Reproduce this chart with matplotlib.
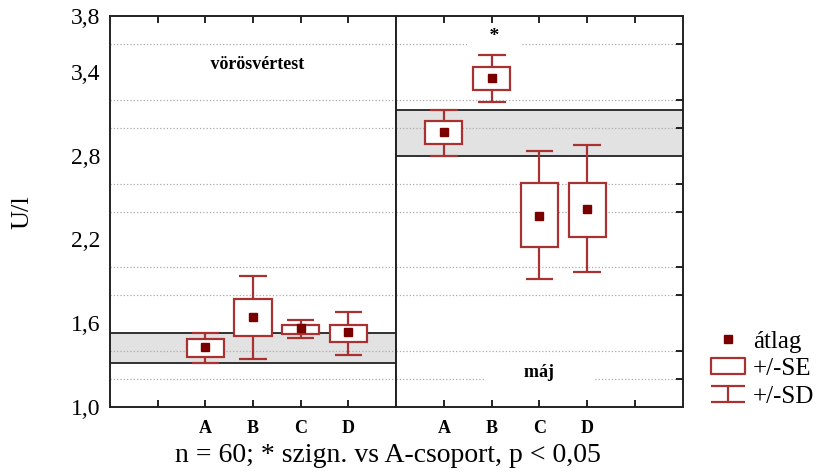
import matplotlib.pyplot as plt
from matplotlib.lines import Line2D
from matplotlib.path import Path

plt.rcParams['font.family'] = ['Liberation Serif', 'DejaVu Serif']

# Data (U/l)
groups = ['A', 'B', 'C', 'D']

# vörösvértest panel
rbc_mean = [1.43, 1.645, 1.567, 1.538]
rbc_se_lo = [1.36, 1.51, 1.524, 1.467]
rbc_se_hi = [1.488, 1.775, 1.589, 1.589]
rbc_sd_lo = [1.316, 1.345, 1.495, 1.373]
rbc_sd_hi = [1.531, 1.94, 1.625, 1.682]
rbc_band = [1.316, 1.531]

# máj panel
liv_mean = [2.967, 3.355, 2.371, 2.421]
liv_se_lo = [2.881, 3.268, 2.149, 2.22]
liv_se_hi = [3.046, 3.434, 2.601, 2.601]
liv_sd_lo = [2.795, 3.182, 1.919, 1.969]
liv_sd_hi = [3.125, 3.52, 2.831, 2.874]
liv_band = [2.795, 3.125]

yticks = [1.0, 1.6, 2.2, 2.8, 3.4, 3.8]
grid_levels = [1.2, 1.4, 1.6, 1.8, 2.0, 2.2, 2.4, 2.6, 2.8, 3.0, 3.2, 3.4, 3.6]

edge = '#A83232'
dot = '#7A0000'

fig = plt.figure(figsize=(8.16, 4.73), dpi=100)
ax1 = fig.add_axes([0.1348, 0.1395, 0.4853 - 0.1348, 0.8267])
ax2 = fig.add_axes([0.4853, 0.1395, 0.837 - 0.4853, 0.8267])


def draw_panel(ax, pos, mean, se_lo, se_hi, sd_lo, sd_hi, band):
    ax.set_xlim(0, 6)
    ax.set_ylim(1.0, 3.8)
    ax.axhspan(band[0], band[1], color='#E2E2E2', zorder=0.3, lw=0)
    for b in band:
        ax.axhline(b, color='#222222', lw=1.3, zorder=1)
    ax.set_yticks(grid_levels, minor=True)
    ax.grid(which='minor', axis='y', color='#AAAAAA', ls=':', lw=0.9)
    ax.set_axisbelow(True)
    heights = [h - l for h, l in zip(se_hi, se_lo)]
    ax.vlines(pos, sd_lo, se_lo, color=edge, lw=1.6, zorder=2)
    ax.vlines(pos, se_hi, sd_hi, color=edge, lw=1.6, zorder=2)
    ax.hlines(sd_lo, [p - 0.29 for p in pos], [p + 0.29 for p in pos], color=edge, lw=1.6, zorder=2)
    ax.hlines(sd_hi, [p - 0.29 for p in pos], [p + 0.29 for p in pos], color=edge, lw=1.6, zorder=2)
    ax.bar(pos, heights, bottom=se_lo, width=0.78, facecolor='white',
           edgecolor=edge, lw=1.6, zorder=3)
    ax.plot(pos, mean, 's', color=dot, ms=6, zorder=4, ls='none')
    ax.set_xticks([1, 2, 3, 4, 5])
    for s in ax.spines.values():
        s.set_linewidth(1.4)
        s.set_color('#222222')


draw_panel(ax1, [2, 3, 4, 5], rbc_mean, rbc_se_lo, rbc_se_hi, rbc_sd_lo, rbc_sd_hi, rbc_band)
draw_panel(ax2, [1, 2, 3, 4], liv_mean, liv_se_lo, liv_se_hi, liv_sd_lo, liv_sd_hi, liv_band)

ax1.set_xticklabels([''] + groups, fontweight='bold', fontsize=13)
ax2.set_xticklabels(groups + [''], fontweight='bold', fontsize=13)
for ax in (ax1, ax2):
    ax.tick_params(axis='x', which='major', direction='in', top=True, bottom=True,
                   length=5, width=1.2, pad=9)

ax1.set_yticks(yticks)
ax1.set_yticklabels([f'{v:.1f}'.replace('.', ',') for v in yticks], fontsize=17)
ax1.tick_params(axis='y', which='both', length=0, pad=7)
ax2.set_yticks(yticks)
ax2.set_yticklabels([])
ax2.tick_params(axis='y', which='both', left=False, right=True, direction='in', length=5, width=1.2)
ax2.tick_params(axis='y', which='major', right=False)

ax1.text(3.1, 3.42, '   vörösvértest   ', ha='center', va='baseline', fontsize=13,
         fontweight='bold', bbox=dict(facecolor='white', edgecolor='none', pad=2), zorder=1)
ax2.text(3.0, 1.215, '        máj        ', ha='center', va='baseline', fontsize=13,
         fontweight='bold', bbox=dict(facecolor='white', edgecolor='none', pad=3), zorder=1)
ax2.text(2.05, 3.65, '    *    ', ha='center', va='center', fontsize=14, fontweight='bold',
         bbox=dict(facecolor='white', edgecolor='none', pad=2), zorder=1)

fig.text(0.027, 0.552, 'U/l', rotation=90, ha='center', va='center', fontsize=19)
fig.text(0.476, 0.036, 'n = 60; * szign. vs A-csoport, p < 0,05', ha='center',
         va='center', fontsize=20)

# legend symbols
box_path = Path([(-1, -0.5), (1, -0.5), (1, 0.5), (-1, 0.5), (-1, -0.5)],
                [Path.MOVETO, Path.LINETO, Path.LINETO, Path.LINETO, Path.CLOSEPOLY])
sd_path = Path([(-1, 0.5), (1, 0.5), (0, 0.5), (0, -0.5), (-1, -0.5), (1, -0.5)],
               [Path.MOVETO, Path.LINETO, Path.MOVETO, Path.LINETO, Path.MOVETO, Path.LINETO])
handles = [
    Line2D([], [], ls='none', marker='s', color=dot, ms=6),
    Line2D([], [], ls='none', marker=box_path, mfc='white', mec=edge, mew=1.6, ms=24),
    Line2D([], [], ls='none', marker=sd_path, mfc='none', mec=edge, mew=1.6, ms=24),
]
fig.legend(handles, ['átlag', '+/-SE', '+/-SD'], loc='center left',
           bbox_to_anchor=(0.855, 0.22), frameon=False, fontsize=18,
           handlelength=1.4, handletextpad=0.3, labelspacing=0.2, borderpad=0)

fig.savefig('out.png', dpi=100)
